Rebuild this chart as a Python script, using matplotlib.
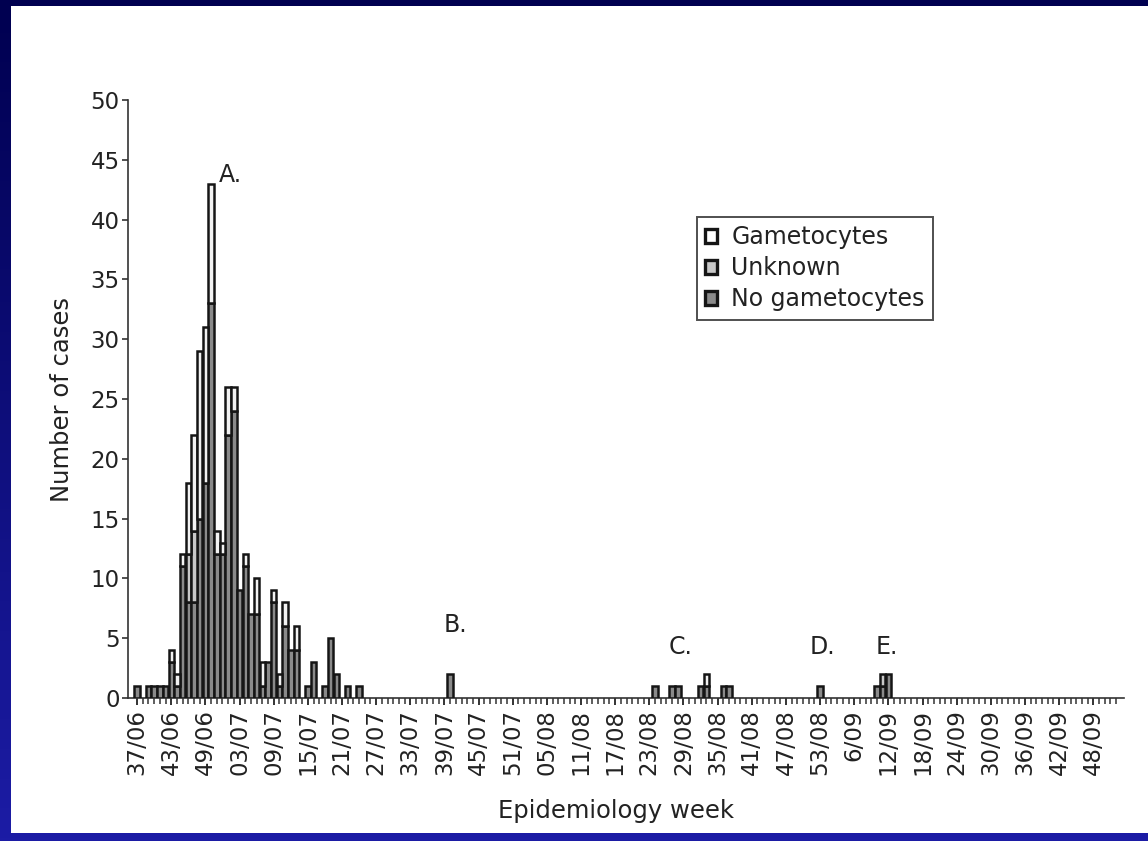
import numpy as np
import matplotlib.pyplot as plt
from matplotlib.patches import Patch, Rectangle

# ---------------------------
# Data
# ---------------------------
# axis runs week 37/06 .. 52/09, one slot per week
year_weeks = [("06", 37, 52), ("07", 1, 52), ("08", 1, 53), ("09", 1, 52)]
week_names = [f"{w:02d}/{yy}" for yy, a, b in year_weeks for w in range(a, b + 1)]

tick_labels = ["37/06", "43/06", "49/06", "03/07", "09/07", "15/07", "21/07",
               "27/07", "33/07", "39/07", "45/07", "51/07", "05/08", "11/08",
               "17/08", "23/08", "29/08", "35/08", "41/08", "47/08", "53/08",
               "6/09", "12/09", "18/09", "24/09", "30/09", "36/09", "42/09",
               "48/09"]

case_weeks = ["37/06", "39/06", "40/06", "41/06", "42/06", "43/06", "44/06",
              "45/06", "46/06", "47/06", "48/06", "49/06", "50/06", "51/06",
              "52/06", "01/07", "02/07", "03/07", "04/07", "05/07", "06/07",
              "07/07", "08/07", "09/07", "10/07", "11/07", "12/07", "13/07",
              "15/07", "16/07", "18/07", "19/07", "20/07", "22/07", "24/07",
              "40/07", "24/08", "27/08", "28/08", "32/08", "33/08", "36/08",
              "37/08", "53/08", "10/09", "11/09", "12/09"]
no_gam = [1, 1, 1, 1, 1, 3, 1, 11, 8, 8, 15, 18, 33, 12, 12, 22, 24, 9, 11, 7,
          7, 1, 3, 8, 1, 6, 4, 4, 1, 3, 1, 5, 2, 1, 1, 2, 1, 1, 1, 1, 1, 1, 1,
          1, 1, 1, 2]
unknown = [0, 0, 0, 0, 0, 0, 0, 0, 4, 6, 0, 0, 0, 0, 0, 0, 0, 0, 0, 0, 0, 0, 0,
           0, 0, 0, 0, 0, 0, 0, 0, 0, 0, 0, 0, 0, 0, 0, 0, 0, 0, 0, 0, 0, 0, 1,
           0]
gam = [0, 0, 0, 0, 0, 1, 1, 1, 6, 8, 14, 13, 10, 2, 1, 4, 2, 0, 1, 0, 3, 2, 0,
       1, 1, 2, 0, 2, 0, 0, 0, 0, 0, 0, 0, 0, 0, 0, 0, 0, 1, 0, 0, 0, 0, 0, 0]

notes = ["A.", "B.", "C.", "D.", "E."]
note_x = [14.4, 55.9, 95.4, 120.5, 131.8]
note_y = [43.7, 6.1, 4.3, 4.3, 4.3]

# ---------------------------
# Per-week arrays
# ---------------------------
n_weeks = len(week_names)
idx = np.array([week_names.index(w) for w in case_weeks])
series = []
for vals in (no_gam, unknown, gam):
    full = np.zeros(n_weeks)
    full[idx] = vals
    series.append(full)

fill_cols = ["#8a8a8a", "#c8c8c8", "#f2f2f2"]
names = ["No gametocytes", "Unknown", "Gametocytes"]
edge = "#151515"

plt.rcParams["font.family"] = "DejaVu Sans"

fig = plt.figure(figsize=(11.48, 8.41), dpi=100)

# slide background: navy gradient with white panel
bg = fig.add_axes([0, 0, 1, 1], zorder=-10)
grad = np.linspace(0, 1, 256).reshape(-1, 1)
top_c = np.array([0, 0, 80]) / 255
bot_c = np.array([28, 28, 165]) / 255
img = top_c + (bot_c - top_c) * grad[:, :, None]
bg.imshow(img, aspect="auto", extent=[0, 1, 0, 1], origin="upper")
bg.add_patch(Rectangle((11 / 1148, 1 - 833 / 841), 1 - 11 / 1148,
                       (833 - 6) / 841, facecolor="white", edgecolor="none"))
bg.set_xlim(0, 1)
bg.set_ylim(0, 1)
bg.axis("off")

ax = fig.add_axes([128 / 1148, 1 - 698 / 841, (1124 - 128) / 1148, 598 / 841])
ax.set_facecolor("none")

x = np.arange(n_weeks)
bottom = np.zeros(n_weeks)
for vals, col in zip(series, fill_cols):
    m = vals > 0
    ax.bar(x[m], vals[m], bottom=bottom[m], width=0.96, color=col,
           edgecolor=edge, linewidth=1.8, zorder=3)
    bottom += vals

ax.set_xlim(-1.6, 173.4)
ax.set_ylim(0, 50)
ax.set_yticks(np.arange(0, 51, 5))
ax.set_xticks(np.arange(len(tick_labels)) * 6)
ax.set_xticklabels(tick_labels, rotation=90)
ax.set_xticks(x, minor=True)

for s in ["top", "right"]:
    ax.spines[s].set_visible(False)
for s in ["left", "bottom"]:
    ax.spines[s].set_linewidth(1.2)
    ax.spines[s].set_color("#333333")

ax.tick_params(axis="y", direction="out", length=4, width=1.2,
               labelsize=16.5, pad=2, colors="#333333", labelcolor="#222222")
ax.tick_params(axis="x", which="major", direction="out", length=5, width=1.4,
               labelsize=16.5, pad=3, colors="#333333", labelcolor="#222222")
ax.tick_params(axis="x", which="minor", direction="out", length=4,
               width=1.1, colors="#333333")

for t, nx, ny in zip(notes, note_x, note_y):
    ha = "left" if t == "A." else "center"
    ax.text(nx, ny, t, ha=ha, va="center", fontsize=17, color="#222222")

fig.text(62 / 1148, 1 - 399 / 841, "Number of cases", rotation=90,
         ha="center", va="center", fontsize=17.5, color="#222222")
fig.text(616 / 1148, 1 - 811 / 841, "Epidemiology week", ha="center",
         va="center", fontsize=17.5, color="#222222")

handles = [Patch(facecolor=c, edgecolor=edge, linewidth=2.4, label=n)
           for c, n in zip(["#ffffff", "#c8c8c8", "#8a8a8a"], names[::-1])]
leg = ax.legend(handles=handles, loc="upper left",
                bbox_to_anchor=(697 / 1148, 1 - 217 / 841),
                bbox_transform=fig.transFigure, borderaxespad=0,
                fontsize=17, frameon=True, fancybox=False, handlelength=0.5,
                handleheight=0.5, handletextpad=0.6, labelspacing=0.3,
                borderpad=0.35)
leg.get_frame().set_edgecolor("#222222")
leg.get_frame().set_linewidth(1.4)
for t in leg.get_texts():
    t.set_color("#222222")

fig.savefig("out.png", dpi=100)
